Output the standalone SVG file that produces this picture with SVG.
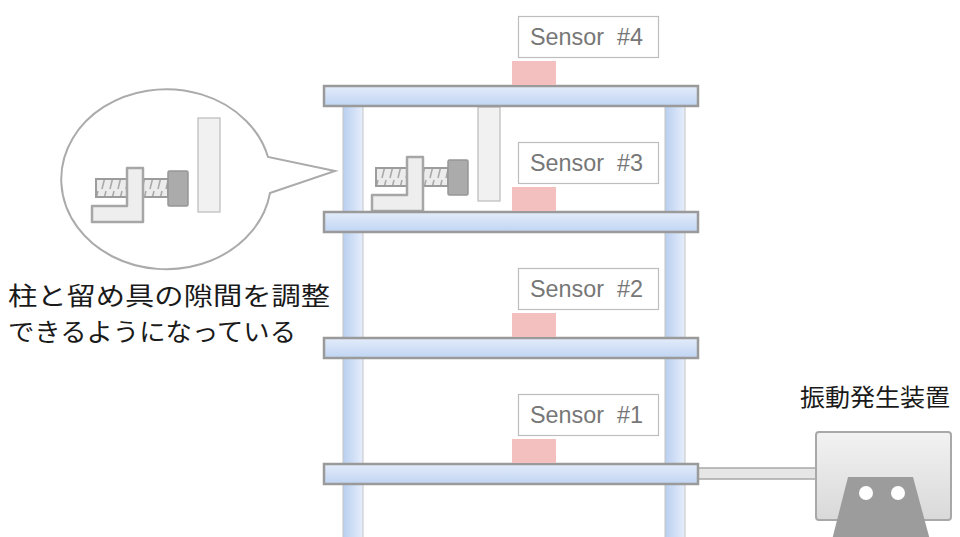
<svg xmlns="http://www.w3.org/2000/svg" xmlns:xlink="http://www.w3.org/1999/xlink" width="960" height="537" viewBox="0 0 960 537">
  <style>
    .slab { fill: url(#slabGrad); stroke: #9a9a9a; stroke-width: 2.5; }
    .column { fill: url(#colGrad); stroke: #c4c4c4; stroke-width: 1; }
    .pad { fill: #f3bfbf; }
    .tag { fill: #ffffff; stroke: #bdbdbd; stroke-width: 1.2; }
    .tagText { font-family: "Liberation Sans", Arial, sans-serif; font-size: 23px; fill: #777777; white-space: pre; }
    .jp { font-family: "Noto Sans CJK JP", "Noto Sans CJK SC", sans-serif; fill: #1a1a1a; }
    .plate { fill: #f1f1f1; stroke: #bbbbbb; stroke-width: 1.2; }
    .bolt { fill: url(#thread); stroke: #9c9c9c; stroke-width: 2; }
    .bracket { fill: #eeeeee; stroke: #a6a6a6; stroke-width: 2.5; stroke-linejoin: round; }
    .nut { fill: #ababab; stroke: #969696; stroke-width: 1.5; }
  </style>
  <defs>
    <linearGradient id="slabGrad" x1="0" y1="0" x2="0" y2="1">
      <stop offset="0" stop-color="#e3ecfa"/>
      <stop offset="1" stop-color="#c0d4f2"/>
    </linearGradient>
    <linearGradient id="colGrad" x1="0" y1="0" x2="1" y2="0">
      <stop offset="0" stop-color="#b9cff0"/>
      <stop offset="1" stop-color="#e6eefb"/>
    </linearGradient>
    <linearGradient id="boxGrad" x1="0" y1="0" x2="0" y2="1">
      <stop offset="0" stop-color="#f2f2f2"/>
      <stop offset="1" stop-color="#d9d9d9"/>
    </linearGradient>
    <pattern id="thread" width="8" height="18" patternUnits="userSpaceOnUse">
      <rect width="8" height="18" fill="#ececec"/>
      <line x1="2" y1="17" x2="6" y2="1" stroke="#a8a8a8" stroke-width="1.6"/>
    </pattern>
    <!-- adjuster: column plate, threaded bolt, L bracket and nut -->
    <g id="adjuster">
      <rect class="plate" x="106" y="0" width="22" height="94"/>
      <rect class="bolt" x="4" y="61" width="72" height="18"/>
      <polygon class="bracket" points="35,50 51,50 51,104 0,104 0,88 35,88"/>
      <rect class="nut" x="76" y="53" width="20" height="35" rx="1.5"/>
    </g>
  </defs>

  <rect width="960" height="537" fill="#ffffff"/>

  <!-- connecting rod from the ground slab to the shaker -->
  <g id="connectors">
    <rect x="698" y="468" width="120" height="11" fill="#e6e6e6" stroke="#a8a8a8" stroke-width="1.5"/>
  </g>

  <!-- building frame -->
  <g id="columns">
    <rect class="column" x="343" y="100" width="20" height="445"/>
    <rect class="column" x="665" y="100" width="20" height="445"/>
  </g>

  <g id="adjuster-floor3">
    <use xlink:href="#adjuster" x="372" y="107"/>
  </g>

  <g id="floor4">
    <rect class="slab" x="324" y="86" width="374" height="20"/>
    <rect class="pad" x="512" y="61" width="44" height="24"/>
    <rect class="tag" x="518.5" y="16.5" width="140" height="41"/>
    <text class="tagText" x="530" y="45" textLength="113" lengthAdjust="spacingAndGlyphs">Sensor  #4</text>
  </g>
  <g id="floor3">
    <rect class="slab" x="324" y="212" width="374" height="20"/>
    <rect class="pad" x="512" y="187" width="44" height="24"/>
    <rect class="tag" x="518.5" y="142.5" width="140" height="41"/>
    <text class="tagText" x="530" y="171" textLength="113" lengthAdjust="spacingAndGlyphs">Sensor  #3</text>
  </g>
  <g id="floor2">
    <rect class="slab" x="324" y="338" width="374" height="20"/>
    <rect class="pad" x="512" y="313" width="44" height="24"/>
    <rect class="tag" x="518.5" y="268.5" width="140" height="41"/>
    <text class="tagText" x="530" y="297" textLength="113" lengthAdjust="spacingAndGlyphs">Sensor  #2</text>
  </g>
  <g id="floor1">
    <rect class="slab" x="324" y="464" width="374" height="20"/>
    <rect class="pad" x="512" y="439" width="44" height="24"/>
    <rect class="tag" x="518.5" y="394.5" width="140" height="41"/>
    <text class="tagText" x="530" y="423" textLength="113" lengthAdjust="spacingAndGlyphs">Sensor  #1</text>
  </g>

  <!-- callout with enlarged adjuster -->
  <g id="callout">
    <path d="M 270 193 L 335 171 L 268 157 A 105 90 0 1 0 270 193 Z" fill="#ffffff" stroke="#ababab" stroke-width="2"/>
    <use xlink:href="#adjuster" x="92" y="118"/>
  </g>

  <g id="caption">
    <text class="jp" x="8" y="305" font-size="25" textLength="322" lengthAdjust="spacingAndGlyphs">柱と留め具の隙間を調整</text>
    <text class="jp" x="8" y="341" font-size="25" textLength="288" lengthAdjust="spacingAndGlyphs">できるようになっている</text>
  </g>

  <!-- vibration generator -->
  <g id="shaker">
    <text class="jp" x="800" y="406" font-size="24" textLength="150" lengthAdjust="spacingAndGlyphs">振動発生装置</text>
    <rect x="816" y="432" width="135" height="88" rx="3" fill="url(#boxGrad)" stroke="#a8a8a8" stroke-width="2"/>
    <polygon points="848,477 913,477 930,540 832,540" fill="#9c9c9c"/>
    <circle cx="866" cy="493" r="7" fill="#ffffff"/>
    <circle cx="898" cy="493" r="7" fill="#ffffff"/>
  </g>
</svg>
